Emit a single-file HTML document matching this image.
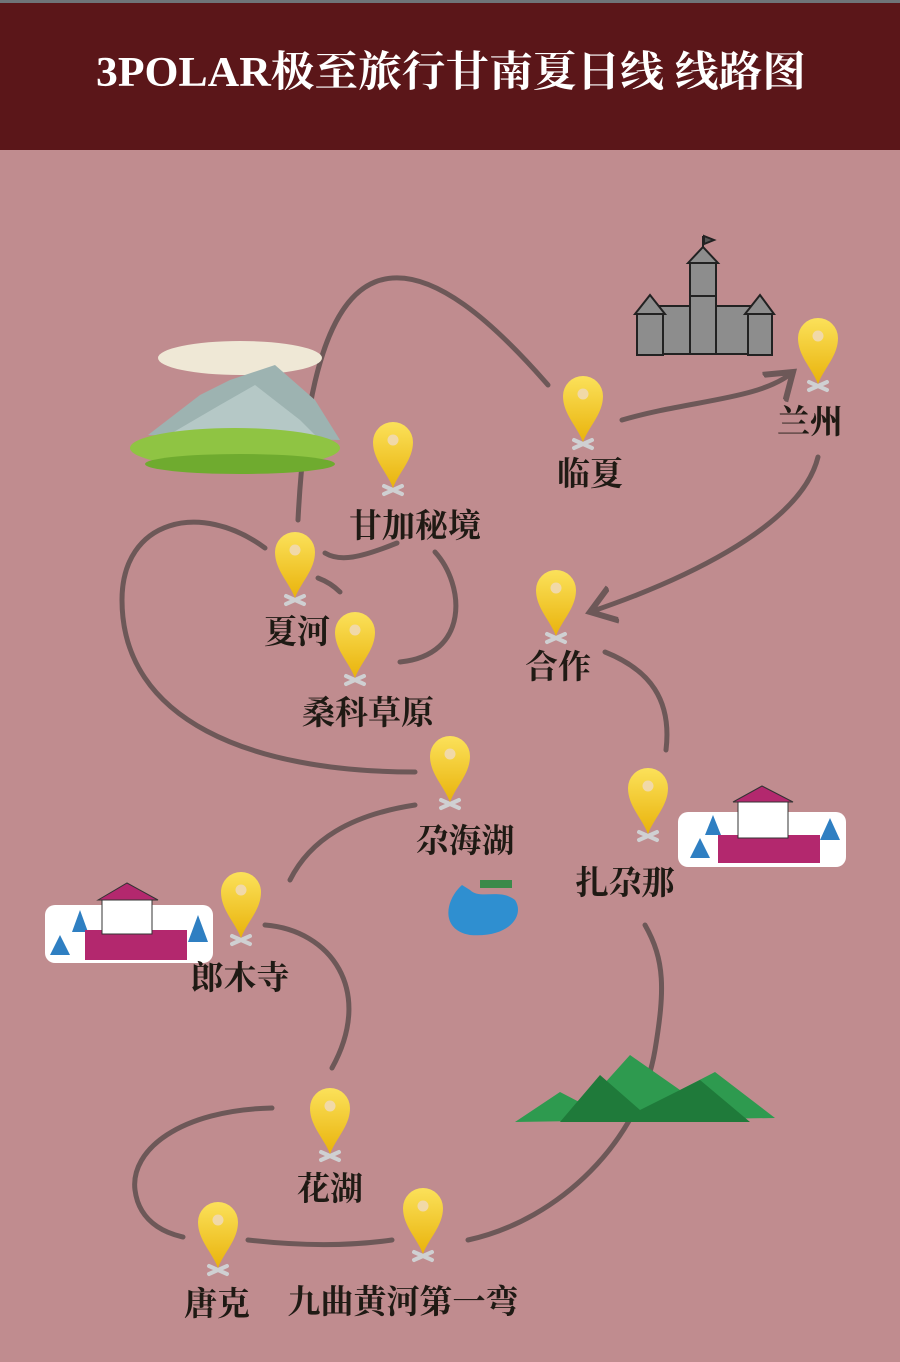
<!DOCTYPE html>
<html><head><meta charset="utf-8"><style>
html,body{margin:0;padding:0;background:#c08c8f;}
svg{display:block}
</style></head><body>
<svg width="900" height="1362" viewBox="0 0 900 1362" xmlns="http://www.w3.org/2000/svg">
<defs>
<linearGradient id="pg" x1="0" y1="0" x2="0" y2="1"><stop offset="0" stop-color="#fbe15a"/><stop offset="1" stop-color="#e9b30c"/></linearGradient>
<g id="pin">
<path d="M-9,4 L9,12 M9,4 L-9,12" stroke="#cfd0d2" stroke-width="4" stroke-linecap="round"/>
<path d="M0,6 C-6,-10 -20,-22 -20,-40 A20,20 0 1 1 20,-40 C20,-22 6,-10 0,6Z" fill="url(#pg)"/>
<circle cx="0" cy="-42" r="5.5" fill="#f1d9a8"/>
</g>
<marker id="ah" markerWidth="8" markerHeight="8" refX="5" refY="4" orient="auto" markerUnits="strokeWidth"><path d="M0,0.5 L5,4 L0,7.5" fill="none" stroke="#6d5858" stroke-width="1.2"/></marker>
</defs>
<rect width="900" height="1362" fill="#c08c8f"/>
<rect x="0" y="0" width="900" height="3" fill="#6f7478"/>
<rect x="0" y="3" width="900" height="147" fill="#5b1619"/>
<text x="96" y="86" textLength="710" lengthAdjust="spacingAndGlyphs" font-family="'Liberation Serif','Noto Serif CJK SC',serif" font-weight="bold" font-size="42" fill="#fff">3POLAR极至旅行甘南夏日线 线路图</text>

<g fill="none" stroke="#6d5858" stroke-width="5" stroke-linecap="round">
<path d="M548,385 C500,330 430,260 375,282 C330,300 305,380 298,520"/>
<path d="M622,420 C690,400 760,400 793,372" marker-end="url(#ah)"/>
<path d="M818,457 C800,530 670,585 590,612" marker-end="url(#ah)"/>
<path d="M605,652 C650,670 672,700 666,750"/>
<path d="M325,553 C340,562 360,558 397,543"/>
<path d="M318,578 C326,581 334,586 340,592"/>
<path d="M435,552 C465,585 470,655 400,662"/>
<path d="M265,548 C200,500 122,520 122,600 C122,720 250,772 415,772"/>
<path d="M415,805 C350,815 310,840 290,880"/>
<path d="M265,925 C330,930 375,990 332,1068"/>
<path d="M272,1108 C180,1110 130,1150 135,1190 C140,1230 180,1236 183,1237"/>
<path d="M248,1240 C300,1246 350,1246 392,1240"/>
<path d="M468,1240 C560,1220 640,1140 655,1050 C665,990 665,960 645,925"/>
</g>

<!-- castle -->
<g stroke="#222" stroke-width="2" fill="#8d8d8d">
<rect x="690" y="262" width="26" height="36"/>
<path d="M688,263 L703,247 L718,263Z"/>
<path d="M703,247 V236" /><path d="M704,236 L714,240 L704,244Z" fill="#555"/>
<rect x="660" y="306" width="90" height="48"/>
<rect x="637" y="313" width="26" height="42"/>
<path d="M635,314 L650,295 L665,314Z"/>
<rect x="748" y="313" width="24" height="42"/>
<path d="M745,314 L760,295 L774,314Z"/>
<rect x="690" y="296" width="26" height="58"/>
</g>
<!-- mountains with cloud -->
<ellipse cx="240" cy="358" rx="82" ry="17" fill="#efe8d6"/>
<path d="M148,435 L200,395 L230,380 L275,365 L315,400 L340,440Z" fill="#9db3b1"/>
<path d="M160,440 L220,405 L255,385 L300,420 L320,440Z" fill="#b5c8c6"/>
<ellipse cx="235" cy="448" rx="105" ry="20" fill="#8fc443"/>
<ellipse cx="240" cy="464" rx="95" ry="10" fill="#6fab2f"/>
<!-- temple right -->
<g>
<rect x="678" y="812" width="168" height="55" rx="10" fill="#fff"/>
<path d="M690,858 L700,838 L710,858Z M705,835 L713,815 L721,835Z M820,840 L830,818 L840,840Z" fill="#2f7fc2"/>
<rect x="718" y="835" width="102" height="28" fill="#b3286e"/>
<rect x="738" y="800" width="50" height="38" fill="#fff" stroke="#333"/>
<path d="M733,802 L762,786 L793,802Z" fill="#b3286e" stroke="#333"/>
</g>
<!-- temple left -->
<g>
<rect x="45" y="905" width="168" height="58" rx="10" fill="#fff"/>
<path d="M50,955 L60,935 L70,955Z M72,932 L80,910 L88,932Z M188,942 L198,915 L208,942Z" fill="#2f7fc2"/>
<rect x="85" y="930" width="102" height="30" fill="#b3286e"/>
<rect x="102" y="898" width="50" height="36" fill="#fff" stroke="#333"/>
<path d="M98,900 L127,883 L158,900Z" fill="#b3286e" stroke="#333"/>
</g>
<!-- lake -->
<path d="M462,885 C445,900 440,930 470,935 C510,938 525,915 515,900 C500,888 480,900 470,890Z" fill="#2f8fd0"/>
<rect x="480" y="880" width="32" height="8" fill="#3b8a4a"/>
<!-- green mountains -->
<path d="M515,1122 L560,1092 L585,1105 L630,1055 L680,1090 L715,1072 L775,1118Z" fill="#2e9a4f"/>
<path d="M560,1122 L600,1075 L640,1110 L700,1080 L750,1122Z" fill="#1f7a3a"/>

<!-- pins -->
<use href="#pin" x="818" y="378"/>
<use href="#pin" x="583" y="436"/>
<use href="#pin" x="393" y="482"/>
<use href="#pin" x="295" y="592"/>
<use href="#pin" x="355" y="672"/>
<use href="#pin" x="556" y="630"/>
<use href="#pin" x="450" y="796"/>
<use href="#pin" x="648" y="828"/>
<use href="#pin" x="241" y="932"/>
<use href="#pin" x="330" y="1148"/>
<use href="#pin" x="218" y="1262"/>
<use href="#pin" x="423" y="1248"/>

<g font-family="'Liberation Serif','Noto Serif CJK SC',serif" font-weight="bold" font-size="33" fill="#1f1a14" text-anchor="middle">
<text x="810" y="433">兰州</text>
<text x="590" y="485">临夏</text>
<text x="415" y="537">甘加秘境</text>
<text x="297" y="643">夏河</text>
<text x="368" y="724">桑科草原</text>
<text x="558" y="678">合作</text>
<text x="465" y="852">尕海湖</text>
<text x="625" y="894">扎尕那</text>
<text x="240" y="989">郎木寺</text>
<text x="330" y="1200">花湖</text>
<text x="217" y="1315">唐克</text>
<text x="403" y="1313">九曲黄河第一弯</text>
</g>
</svg>
</body></html>
